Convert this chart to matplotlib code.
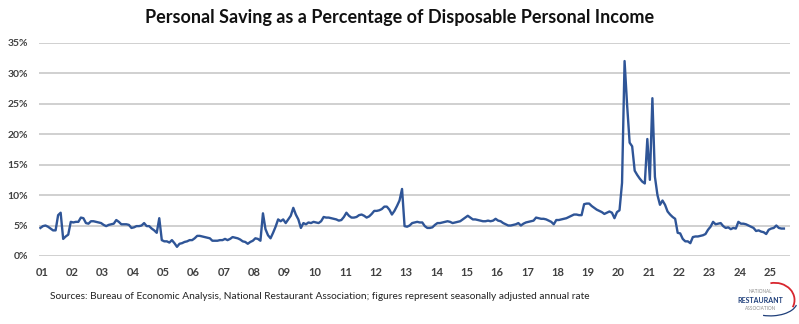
import matplotlib
matplotlib.use("Agg")
import matplotlib.pyplot as plt
from matplotlib.patches import Arc
import numpy as np

# Monthly personal saving rate (%), January 2001 onward
rate_2001 = [4.6, 4.9, 5.0, 4.8, 4.5, 4.2, 4.2, 6.7, 7.1, 2.8, 3.2, 3.5]
rate_2002 = [5.6, 5.5, 5.6, 5.6, 6.3, 6.2, 5.4, 5.3, 5.7, 5.7, 5.6, 5.5]
rate_2003 = [5.4, 5.1, 4.9, 5.1, 5.2, 5.3, 5.9, 5.6, 5.2, 5.2, 5.2, 5.1]
rate_2004 = [4.6, 4.7, 4.9, 4.9, 5.0, 5.4, 4.9, 4.9, 4.5, 4.2, 3.8, 6.2]
rate_2005 = [2.6, 2.4, 2.4, 2.2, 2.6, 2.1, 1.5, 2.0, 2.1, 2.3, 2.4, 2.6]
rate_2006 = [2.6, 2.9, 3.3, 3.3, 3.2, 3.1, 3.0, 2.9, 2.5, 2.5, 2.5, 2.6]
rate_2007 = [2.6, 2.8, 2.6, 2.8, 3.1, 3.0, 2.9, 2.7, 2.4, 2.3, 2.0, 2.3]
rate_2008 = [2.5, 2.9, 2.8, 2.5, 7.0, 4.4, 3.4, 2.9, 3.8, 4.8, 6.0, 5.7]
rate_2009 = [6.0, 5.4, 6.0, 6.6, 7.9, 6.8, 6.0, 4.6, 5.4, 5.2, 5.5, 5.4]
rate_2010 = [5.6, 5.5, 5.4, 5.7, 6.4, 6.3, 6.3, 6.2, 6.1, 6.0, 5.8, 5.9]
rate_2011 = [6.4, 7.1, 6.6, 6.3, 6.3, 6.4, 6.7, 6.8, 6.6, 6.3, 6.5, 6.9]
rate_2012 = [7.4, 7.4, 7.5, 7.7, 8.1, 8.1, 7.6, 6.8, 7.4, 8.2, 9.1, 11.0]
rate_2013 = [4.9, 4.8, 5.0, 5.4, 5.5, 5.6, 5.5, 5.5, 4.9, 4.6, 4.6, 4.7]
rate_2014 = [5.1, 5.4, 5.4, 5.5, 5.6, 5.7, 5.6, 5.4, 5.5, 5.6, 5.7, 6.0]
rate_2015 = [6.3, 6.6, 6.3, 6.0, 6.0, 5.9, 5.8, 5.7, 5.7, 5.8, 5.7, 5.8]
rate_2016 = [6.1, 5.8, 5.7, 5.4, 5.2, 5.0, 5.0, 5.1, 5.2, 5.4, 5.0, 5.3]
rate_2017 = [5.5, 5.6, 5.7, 5.8, 6.3, 6.2, 6.1, 6.1, 6.0, 5.8, 5.6, 5.2]
rate_2018 = [5.9, 5.9, 6.0, 6.1, 6.2, 6.4, 6.6, 6.8, 6.8, 6.7, 6.7, 8.5]
rate_2019 = [8.6, 8.6, 8.2, 7.9, 7.6, 7.4, 7.2, 6.9, 7.1, 7.3, 7.1, 6.2]
rate_2020 = [7.2, 7.5, 12.0, 32.0, 24.8, 18.6, 18.0, 14.0, 13.3, 12.7, 12.2, 11.9]
rate_2021 = [19.2, 12.5, 25.9, 13.0, 10.0, 8.4, 9.1, 8.4, 7.3, 6.8, 6.4, 6.1]
rate_2022 = [3.8, 3.7, 2.8, 2.4, 2.4, 2.1, 3.1, 3.2, 3.2, 3.3, 3.4, 3.6]
rate_2023 = [4.3, 4.8, 5.6, 5.2, 5.3, 5.4, 4.9, 4.6, 4.7, 4.4, 4.6, 4.5]
rate_2024 = [5.6, 5.3, 5.3, 5.2, 5.0, 4.8, 4.6, 4.1, 4.2, 4.0, 3.9, 3.6]
rate_2025 = [4.3, 4.5, 4.6, 5.0, 4.6, 4.5, 4.5]

year_labels = ["01", "02", "03", "04", "05", "06", "07", "08", "09", "10", "11", "12", "13",
               "14", "15", "16", "17", "18", "19", "20", "21", "22", "23", "24", "25"]
y_ticks = [0, 5, 10, 15, 20, 25, 30, 35]

saving = (rate_2001 + rate_2002 + rate_2003 + rate_2004 + rate_2005 + rate_2006 +
          rate_2007 + rate_2008 + rate_2009 + rate_2010 + rate_2011 + rate_2012 +
          rate_2013 + rate_2014 + rate_2015 + rate_2016 + rate_2017 + rate_2018 +
          rate_2019 + rate_2020 + rate_2021 + rate_2022 + rate_2023 + rate_2024 +
          rate_2025)
months = np.arange(len(saving))

plt.rcParams["font.family"] = ["Lato", "DejaVu Sans"]

fig = plt.figure(figsize=(7.99, 3.24), dpi=100)
ax = fig.add_axes([0.049, 0.210, 0.940, 0.658])

ax.plot(months, saving, color="#2F5597", linewidth=1.7, solid_joinstyle="round")

ax.set_xlim(-0.5, 296.5)
ax.set_ylim(0, 35)
ax.set_yticks(y_ticks)
ax.set_yticklabels([f"{t}%" for t in y_ticks], fontsize=7.5, fontweight="bold", color="#404040")
ax.set_xticks(np.arange(len(year_labels)) * 12 + 0.6)
ax.set_xticklabels(year_labels, fontsize=8, fontweight="bold", color="#404040")
ax.tick_params(axis="both", length=0)
ax.tick_params(axis="y", pad=8)
ax.tick_params(axis="x", pad=8)
ax.grid(axis="y", color="#C8C8C8", linewidth=1.2)
ax.set_axisbelow(True)
for s in ax.spines.values():
    s.set_visible(False)

fig.text(0.5, 0.945, "Personal Saving as a Percentage of Disposable Personal Income",
         ha="center", va="center", fontsize=13, fontweight="bold", color="#111111")
fig.text(0.062, 0.085, "Sources: Bureau of Economic Analysis, National Restaurant Association; "
         "figures represent seasonally adjusted annual rate",
         ha="left", va="center", fontsize=7.3, color="#222222")

# association logo, bottom right
fig.text(0.952, 0.099, "NATIONAL", ha="center", va="center", fontsize=3.4, color="#8A8A8A")
fig.text(0.952, 0.074, "RESTAURANT", ha="center", va="center", fontsize=5.0,
         fontweight="bold", color="#1F3F7A")
fig.text(0.952, 0.049, "ASSOCIATION", ha="center", va="center", fontsize=3.4, color="#8A8A8A")
logo = fig.add_axes([0.920, 0.006, 0.080, 0.136])
logo.set_xlim(0, 1)
logo.set_ylim(0, 1)
logo.axis("off")
logo.add_patch(Arc((0.62, 0.50), 0.62, 0.78, theta1=-30, theta2=100, color="#D8262E", linewidth=1.3))
logo.add_patch(Arc((0.55, 0.46), 0.84, 0.64, theta1=-110, theta2=-10, color="#1F3F7A", linewidth=0.9))

fig.savefig("out.png", dpi=100)
